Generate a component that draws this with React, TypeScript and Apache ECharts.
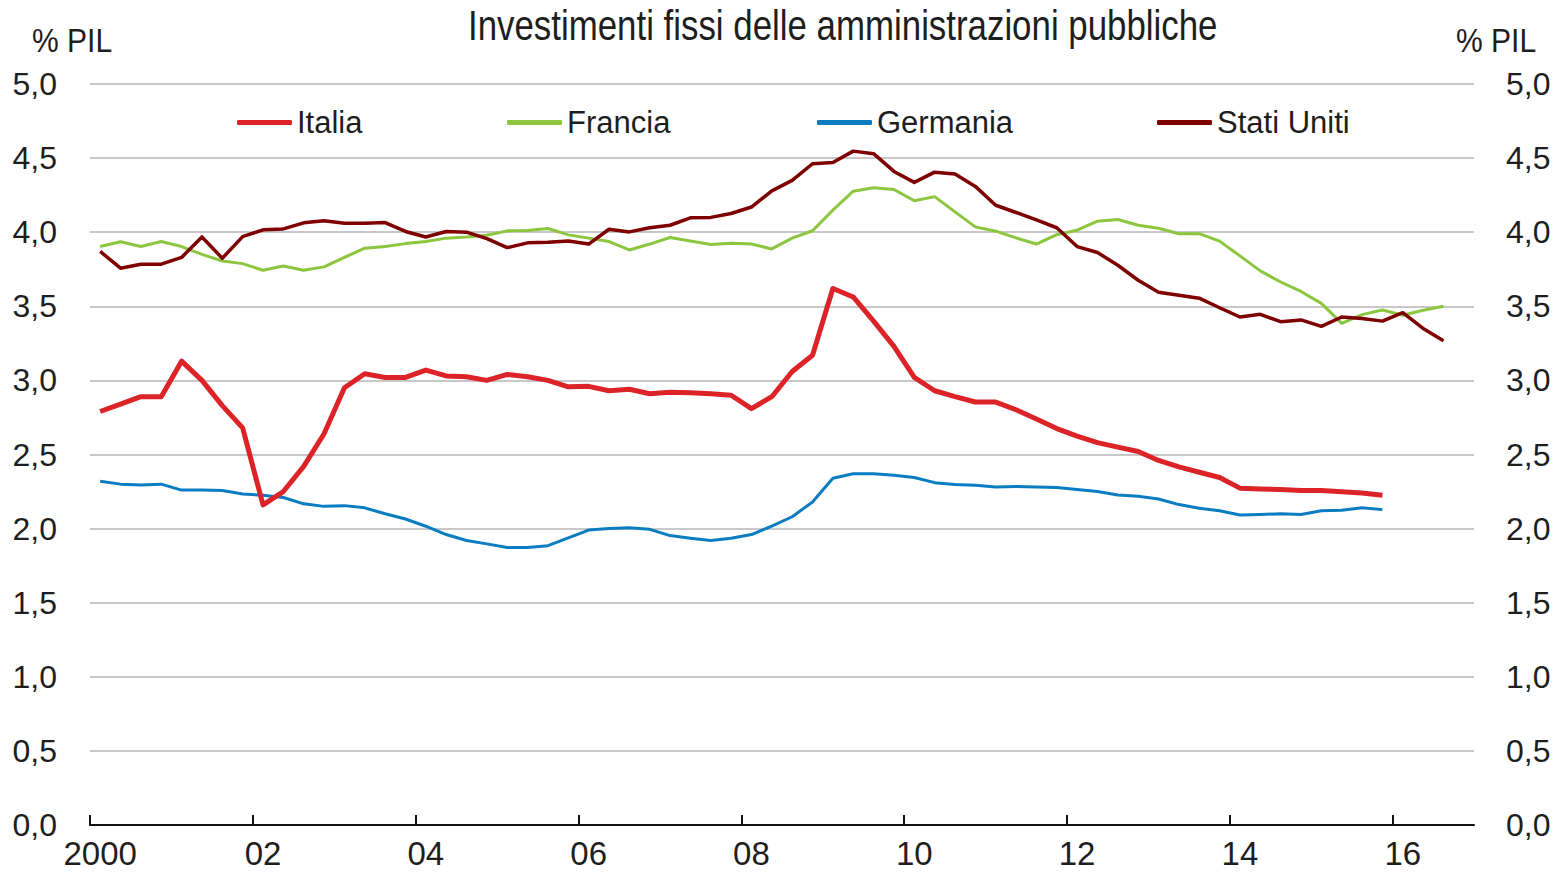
import React, { useEffect, useRef } from "react";
import * as echarts from "echarts";

// Quarterly observations, 2000 T1 .. 2016 T4 (68 quarters on the axis)
const years = [2000, 2001, 2002, 2003, 2004, 2005, 2006, 2007, 2008, 2009, 2010, 2011, 2012, 2013, 2014, 2015, 2016];
const quartersPerYear = 4;
const xTickLabels = ["2000", "02", "04", "06", "08", "10", "12", "14", "16"];
const xTickYearStep = 2;

const italia = [
  2.79, 2.84, 2.89, 2.89, 3.13, 3.0, 2.83, 2.68, 2.16, 2.25, 2.42, 2.64, 2.95, 3.045, 3.02, 3.02,
  3.07, 3.03, 3.025, 3.0, 3.04, 3.025, 3.0, 2.957, 2.96, 2.93, 2.94, 2.91, 2.92, 2.917, 2.91, 2.9,
  2.81, 2.89, 3.06, 3.17, 3.62, 3.563, 3.4, 3.23, 3.02, 2.93, 2.89, 2.854, 2.854, 2.802, 2.74, 2.675,
  2.624, 2.58, 2.55, 2.52, 2.46, 2.416, 2.38, 2.345, 2.273, 2.268, 2.264, 2.257, 2.257, 2.248, 2.24, 2.225,
];

const francia = [
  3.903, 3.935, 3.903, 3.937, 3.903, 3.85, 3.806, 3.788, 3.743, 3.772, 3.743, 3.766, 3.83, 3.892, 3.903, 3.923,
  3.937, 3.96, 3.968, 3.98, 4.009, 4.011, 4.025, 3.982, 3.96, 3.937, 3.88, 3.92, 3.964, 3.94, 3.917, 3.926,
  3.92, 3.887, 3.96, 4.01, 4.149, 4.277, 4.3, 4.288, 4.212, 4.24, 4.137, 4.036, 4.007, 3.962, 3.92, 3.983,
  4.014, 4.074, 4.086, 4.047, 4.027, 3.99, 3.99, 3.94, 3.84, 3.739, 3.664, 3.6, 3.52, 3.385, 3.444, 3.475,
  3.44, 3.473, 3.5,
];

const germania = [
  2.32, 2.3, 2.295, 2.3, 2.26, 2.26, 2.257, 2.234, 2.225, 2.21, 2.167, 2.15, 2.155, 2.14, 2.1, 2.065,
  2.016, 1.96, 1.92, 1.897, 1.872, 1.872, 1.885, 1.937, 1.99, 2.0, 2.005, 1.995, 1.953, 1.935, 1.92, 1.935,
  1.96, 2.016, 2.08, 2.18, 2.34, 2.37, 2.37, 2.36, 2.345, 2.31, 2.297, 2.293, 2.28, 2.284, 2.28, 2.278,
  2.264, 2.25, 2.227, 2.218, 2.2, 2.162, 2.137, 2.12, 2.092, 2.095, 2.1, 2.095, 2.12, 2.124, 2.14, 2.128,
];

const statiUniti = [
  3.87, 3.757, 3.784, 3.784, 3.83, 3.968, 3.824, 3.97, 4.016, 4.022, 4.063, 4.077, 4.06, 4.06, 4.065, 4.005,
  3.968, 4.005, 4.0, 3.957, 3.896, 3.928, 3.932, 3.94, 3.92, 4.02, 4.002, 4.03, 4.047, 4.097, 4.1, 4.126,
  4.17, 4.279, 4.35, 4.462, 4.47, 4.547, 4.53, 4.41, 4.336, 4.405, 4.392, 4.309, 4.182, 4.133, 4.083, 4.03,
  3.903, 3.863, 3.777, 3.676, 3.595, 3.574, 3.555, 3.49, 3.428, 3.446, 3.396, 3.408, 3.365, 3.428, 3.417, 3.4,
  3.457, 3.351, 3.268,
];

const seriesNames = ["Italia", "Francia", "Germania", "Stati Uniti"];
const seriesColors = ["#DC2328", "#8CC63F", "#0A7CC2", "#7F0000"];
const seriesWidths = [5, 3, 3, 3.5];
const seriesData = [italia, francia, germania, statiUniti];
const legendLefts = [232, 502, 812, 1152];

const FONT = "'Liberation Sans', Arial, sans-serif";
const TEXT = "#1e1e1e";

const fmt = (v: number) => v.toFixed(1).replace(".", ",");

const nQuarters = years.length * quartersPerYear;
const tickStep = xTickYearStep * quartersPerYear;
const tickValues = xTickLabels.map((_, i) => i * tickStep);
const labelValues = tickValues.map((v) => v + 0.5);

export default function App() {
  const ref = useRef<HTMLDivElement>(null);
  useEffect(() => {
    if (!ref.current) return;
    const chart = echarts.init(ref.current, undefined, { renderer: "svg" });
    const yAxisBase = (pos: "left" | "right", margin: number) => ({
      type: "value" as const,
      position: pos,
      min: 0,
      max: 5,
      interval: 0.5,
      axisLine: { show: false },
      axisTick: { show: false },
      splitLine: { show: pos === "left", lineStyle: { color: "#C8C8C8", width: 2 } },
      axisLabel: {
        margin,
        fontSize: 32,
        fontFamily: FONT,
        color: TEXT,
        formatter: (v: number) => fmt(v),
      },
    });
    chart.setOption({
      animation: false,
      backgroundColor: "#fff",
      graphic: [
        {
          type: "text",
          x: 468,
          y: 25,
          scaleX: 0.83,
          style: {
            text: "Investimenti fissi delle amministrazioni pubbliche",
            fontSize: 42,
            fontFamily: FONT,
            fill: TEXT,
            verticalAlign: "middle",
          },
        },
        {
          type: "text",
          x: 32,
          y: 40,
          scaleX: 0.91,
          style: { text: "% PIL", fontSize: 33, fontFamily: FONT, fill: TEXT, verticalAlign: "middle" },
        },
        {
          type: "text",
          x: 1456,
          y: 40,
          scaleX: 0.91,
          style: { text: "% PIL", fontSize: 33, fontFamily: FONT, fill: TEXT, verticalAlign: "middle" },
        },
      ],
      legend: seriesNames.map((name, i) => ({
        left: legendLefts[i],
        top: 102,
        itemWidth: 55,
        itemHeight: 5,
        icon: "roundRect",
        data: [name],
        selectedMode: false,
        textStyle: { fontSize: 31, fontFamily: FONT, color: TEXT },
      })),
      grid: { left: 90, right: 86, top: 84, bottom: 53, containLabel: false },
      xAxis: {
        type: "value",
        min: 0,
        max: nQuarters,
        axisLine: { show: true, onZero: false, lineStyle: { color: "#111", width: 2 } },
        axisTick: {
          show: true,
          inside: true,
          length: 10,
          customValues: tickValues,
          lineStyle: { color: "#111", width: 2 },
        },
        axisLabel: {
          margin: 12,
          fontSize: 33,
          fontFamily: FONT,
          color: TEXT,
          customValues: labelValues,
          formatter: (v: number) => xTickLabels[Math.round((v - 0.5) / tickStep)] ?? "",
        },
        splitLine: { show: false },
      },
      yAxis: [yAxisBase("left", 33), yAxisBase("right", 32)],
      series: seriesNames.map((name, i) => ({
        name,
        type: "line",
        data: seriesData[i].map((v, q) => [q + 0.5, v]),
        symbol: "none",
        yAxisIndex: 0,
        color: seriesColors[i],
        lineStyle: { color: seriesColors[i], width: seriesWidths[i], join: "round" },
        z: i === 0 ? 5 : 3,
      })),
    });
    return () => chart.dispose();
  }, []);
  return <div ref={ref} style={{ width: 1560, height: 878, position: "absolute", left: 0, top: 0 }} />;
}
